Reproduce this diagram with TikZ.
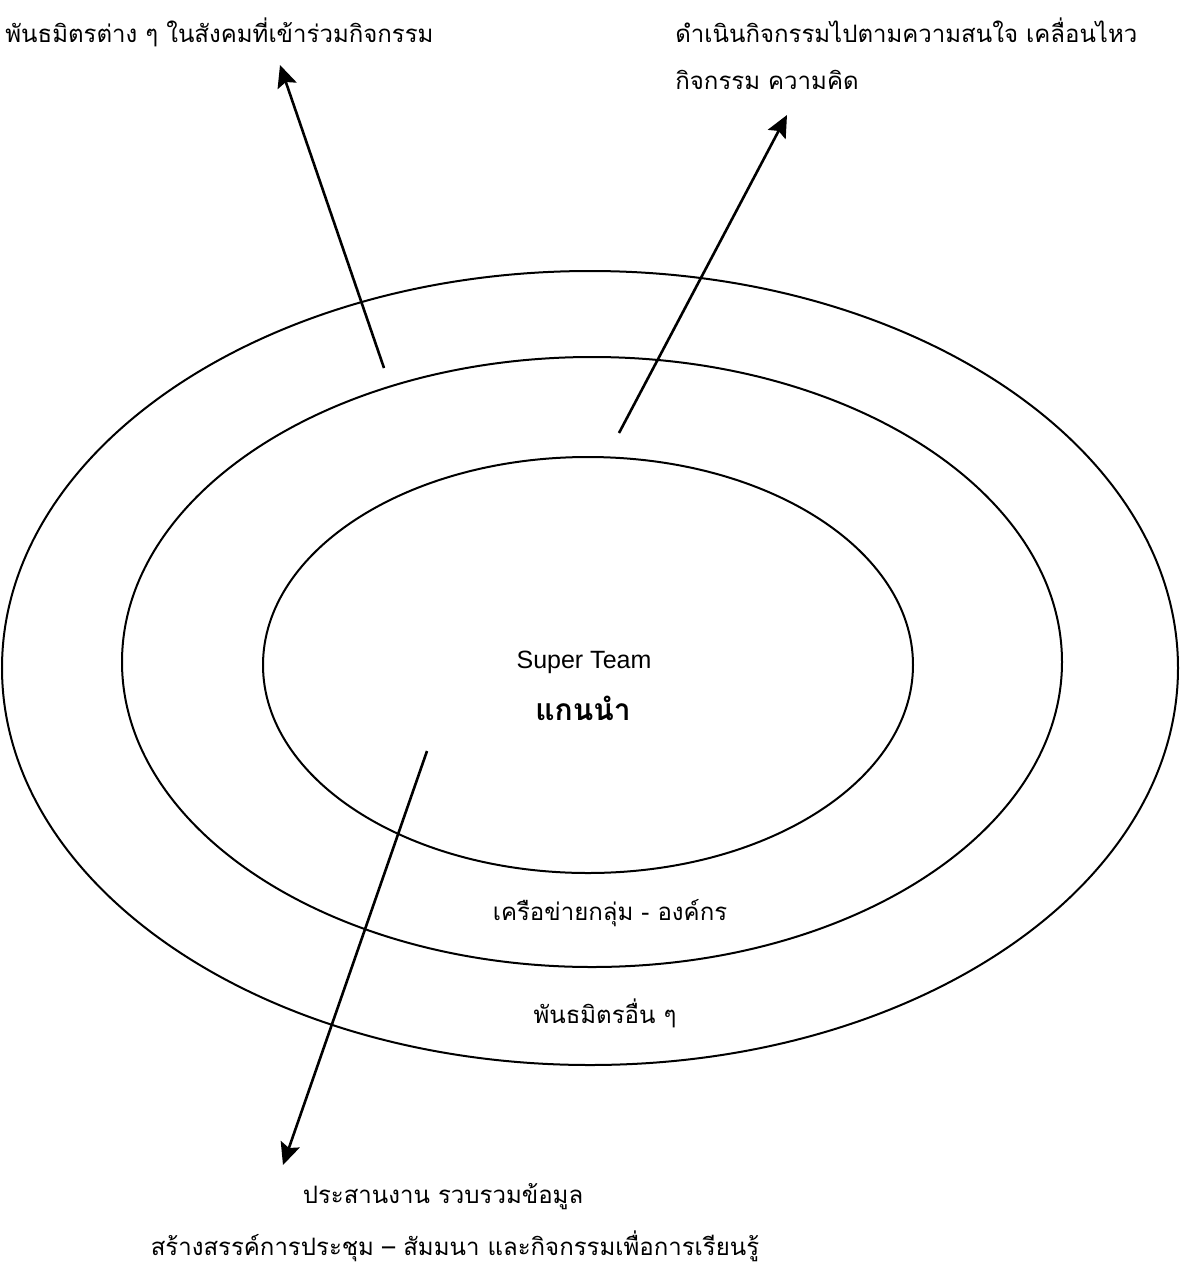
\documentclass[tikz,border=0pt]{standalone}
\usepackage{fontspec}
\setmainfont{Liberation Sans}
\newfontfamily\thaifont[Script=Thai]{Loma}
\usetikzlibrary{arrows.meta}
\tikzset{
   every path/.style={>={Stealth[length=11pt,width=10pt,inset=2pt]}},
   ring/.style={line width=1pt},
   link/.style={->,line width=1.3pt},
   thlab/.style={font=\thaifont\fontsize{12}{14}\selectfont,inner sep=0pt},
   enlab/.style={font=\fontsize{12.5}{15}\selectfont,inner sep=0pt},
}

\begin{document}
\begin{tikzpicture}[x=0.5pt,y=-0.5pt]
        \useasboundingbox (0,0) rectangle (1180,1275);

        % rings
        \coordinate (outerc) at (590,668);
        \coordinate (midc)   at (592,662);
        \coordinate (innerc) at (588,665);
        \draw[ring] (outerc) ellipse [x radius=294pt, y radius=198.5pt];
        \draw[ring] (midc)   ellipse [x radius=235pt, y radius=152.5pt];
        \draw[ring] (innerc) ellipse [x radius=162.5pt, y radius=104pt];

        % labels
        \node[thlab, anchor=west] (allies) at (5,32) {พันธมิตรต่าง ๆ ในสังคมที่เข้าร่วมกิจกรรม};
        \node[thlab, anchor=west] (move1)  at (675,30) {ดำเนินกิจกรรมไปตามความสนใจ เคลื่อนไหว};
        \node[thlab, anchor=west] (move2)  at (675,80) {กิจกรรม ความคิด};

        \node[enlab] (super) at (584,662) {Super Team};
        \node[thlab, font=\thaifont\bfseries\fontsize{15}{17}\selectfont] (core) at (583,708) {แกนนำ};
        \node[thlab] (net)    at (610,913)  {เครือข่ายกลุ่ม - องค์กร};
        \node[thlab] (others) at (605,1013) {พันธมิตรอื่น ๆ};

        \node[thlab] (coord)  at (443,1197) {ประสานงาน รวบรวมข้อมูล};
        \node[thlab] (meet)   at (455,1246) {สร้างสรรค์การประชุม – สัมมนา และกิจกรรมเพื่อการเรียนรู้};

        % arrows
        \coordinate (a1s) at (384,368);
        \coordinate (a1e) at (280,65);
        \coordinate (a2s) at (619,433);
        \coordinate (a2e) at (787,115);
        \coordinate (a3s) at (427,751);
        \coordinate (a3e) at (283,1165);
        \draw[link] (a1s) -- (a1e);
        \draw[link] (a2s) -- (a2e);
        \draw[link] (a3s) -- (a3e);
      \end{tikzpicture}
\end{document}
